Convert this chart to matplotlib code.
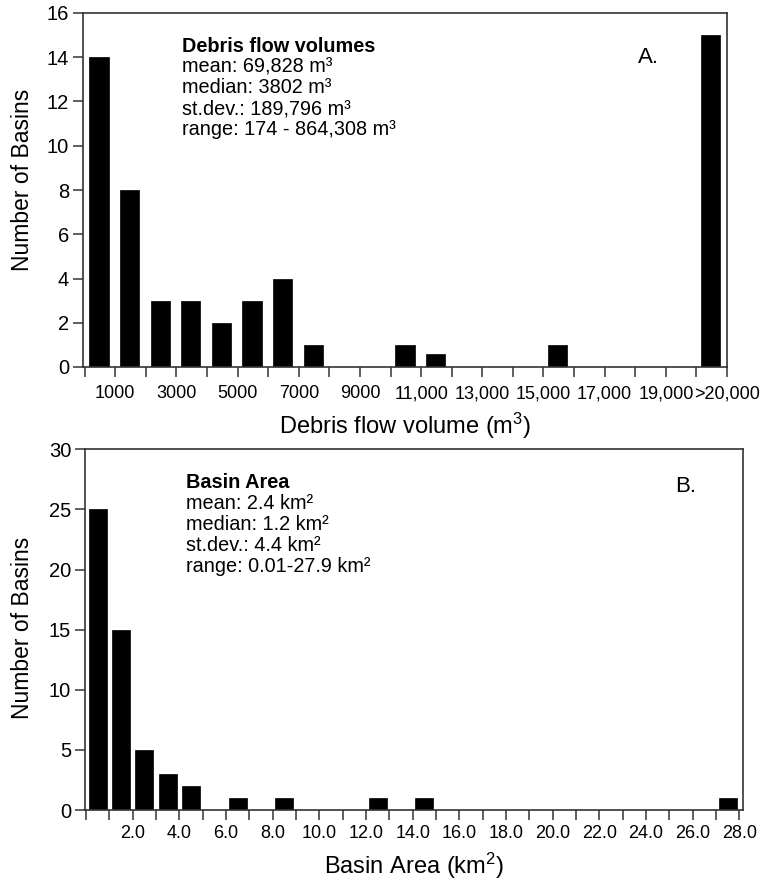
import numpy as np
import matplotlib
matplotlib.use("Agg")
import matplotlib.pyplot as plt

plt.rcParams['font.family'] = ['Liberation Sans', 'DejaVu Sans']
plt.rcParams['mathtext.fontset'] = 'custom'
plt.rcParams['mathtext.rm'] = 'Liberation Sans'
plt.rcParams['mathtext.it'] = 'Liberation Sans:italic'
plt.rcParams['mathtext.bf'] = 'Liberation Sans:bold'

# ---- Panel A data: debris flow volume histogram (bins of 1000 m3) ----
vol_bins = list(range(21))          # bin index (thousands of m3); last bin = >20,000
vol_counts = [14, 8, 3, 3, 2, 3, 4, 1, 0, 0, 1, 0.6, 0, 0, 0, 1, 0, 0, 0, 0, 15]
vol_ticks = list(range(22))
vol_ticklabels = ['', '1000', '', '3000', '', '5000', '', '7000', '', '9000', '',
                  '11,000', '', '13,000', '', '15,000', '', '17,000', '', '19,000', '',
                  '>20,000']
vol_title = 'Debris flow volumes'
vol_stats = ['mean: 69,828 m\u00b3',
             'median: 3802 m\u00b3',
             'st.dev.: 189,796 m\u00b3',
             'range: 174 - 864,308 m\u00b3']

# ---- Panel B data: basin area histogram (bins of 1 km2) ----
area_bins = list(range(28))
area_counts = [25, 15, 5, 3, 2, 0, 1, 0, 1, 0, 0, 0, 1, 0, 1, 0, 0, 0, 0, 0,
               0, 0, 0, 0, 0, 0, 0, 1]
area_ticks = list(range(29))
area_ticklabels = ['' if (t % 2 or t == 0) else f'{t:.1f}' for t in area_ticks]
area_title = 'Basin Area'
area_stats = ['mean: 2.4 km\u00b2',
              'median: 1.2 km\u00b2',
              'st.dev.: 4.4 km\u00b2',
              'range: 0.01-27.9 km\u00b2']

W, H = 761, 881
fig = plt.figure(figsize=(W / 100, H / 100), dpi=100)

spine_col = '#333333'


def style(ax):
    for s in ax.spines.values():
        s.set_linewidth(1.2)
        s.set_color(spine_col)
    ax.tick_params(axis='both', direction='out', length=7, width=1.1, color=spine_col)
    ax.tick_params(axis='y', labelsize=14.5, pad=3)


def stat_block(ax, x_px, ax_left, ax_w, ax_bottom, ax_h, base, spacing, title, lines):
    tx = (x_px - ax_left) / ax_w
    ax.text(tx, (ax_bottom - base) / ax_h, title, transform=ax.transAxes,
            fontsize=14.3, fontweight='bold', va='baseline', ha='left')
    for i, s in enumerate(lines):
        y = base + spacing * (i + 1)
        ax.text(tx, (ax_bottom - y) / ax_h, s, transform=ax.transAxes,
                fontsize=14.3, va='baseline', ha='left')


# Panel A
ax1 = fig.add_axes([83 / W, 1 - 367 / H, (727 - 83) / W, (367 - 13) / H])
ax1.bar(np.array(vol_bins) + 0.47, vol_counts, width=0.63, color='black',
        edgecolor='black', linewidth=0.5)
ax1.set_xlim(-0.055, 21.0)
ax1.set_ylim(0, 16)
ax1.set_yticks(np.arange(0, 17, 2))
ax1.set_xticks(vol_ticks)
ax1.set_xticklabels(vol_ticklabels)
style(ax1)
ax1.tick_params(axis='x', labelsize=13, pad=6)
ax1.set_ylabel('Number of Basins', fontsize=16.5, va='center')
ax1.yaxis.set_label_coords(-0.094, 0.53)
ax1.set_xlabel('Debris flow volume (m$^\\mathregular{3}$)', fontsize=17, va='center')
ax1.xaxis.set_label_coords(0.5, -0.167)

stat_block(ax1, 181.7, 83, 644, 367, 354, 51.7, 20.8, vol_title, vol_stats)
ax1.text((638 - 83) / 644, (367 - 63) / 354, 'A.', transform=ax1.transAxes,
         fontsize=16, va='baseline', ha='left')

# Panel B
ax2 = fig.add_axes([85 / W, 1 - 810 / H, (742.7 - 85) / W, (810 - 449.3) / H])
ax2.bar(np.array(area_bins) + 0.5, area_counts, width=0.77, color='black',
        edgecolor='black', linewidth=0.5)
ax2.set_xlim(-0.047, 28.14)
ax2.set_ylim(0, 30)
ax2.set_yticks(np.arange(0, 31, 5))
ax2.set_xticks(area_ticks)
ax2.set_xticklabels(area_ticklabels)
style(ax2)
ax2.tick_params(axis='x', labelsize=13, pad=4)
ax2.set_ylabel('Number of Basins', fontsize=16.5, va='center')
ax2.yaxis.set_label_coords(-0.095, 0.505)
ax2.set_xlabel('Basin Area (km$^\\mathregular{2}$)', fontsize=17, va='center')
ax2.xaxis.set_label_coords(0.5, -0.155)

stat_block(ax2, 186, 85, 742.7 - 85, 810, 810 - 449.3, 488, 21, area_title, area_stats)
ax2.text((675 - 85) / (742.7 - 85), (810 - 492) / (810 - 449.3), 'B.', transform=ax2.transAxes,
         fontsize=16, va='baseline', ha='left')

fig.savefig('out.png', dpi=100)
